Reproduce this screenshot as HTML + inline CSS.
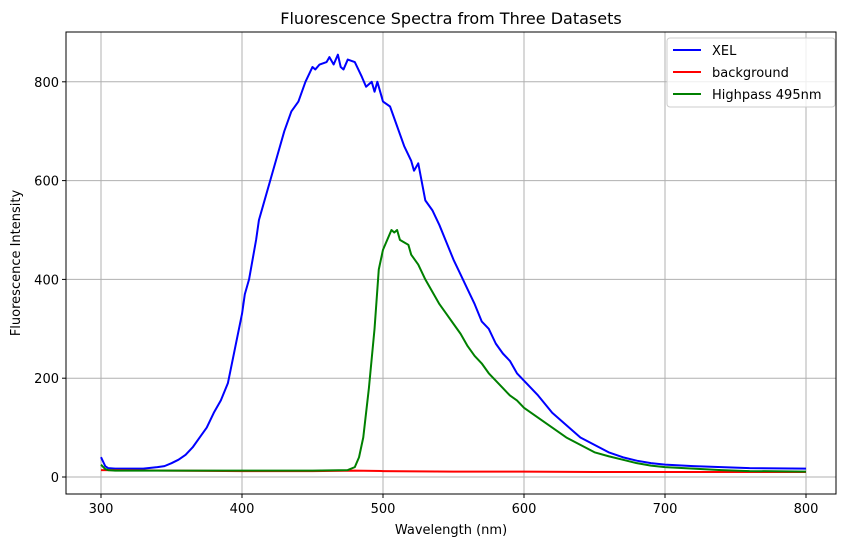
<!DOCTYPE html>
<html><head><meta charset="utf-8"><style>
body{margin:0;background:#fff;font-family:"Liberation Sans","DejaVu Sans",sans-serif}
svg text{font-family:"DejaVu Sans","Liberation Sans",sans-serif}
</style></head><body>
<svg id="chart" width="850" height="547">
<rect width="850" height="547" fill="#fff"/>
<g id="grid"></g>
<g id="series"></g>
<rect x="66" y="32" width="770" height="462" fill="none" stroke="#000" stroke-width="1"/>
<g id="ticks"></g>
<text x="451" y="24" text-anchor="middle" font-size="16">Fluorescence Spectra from Three Datasets</text>
<text x="451" y="534" text-anchor="middle" font-size="13">Wavelength (nm)</text>
<text transform="translate(20,263) rotate(-90)" text-anchor="middle" font-size="13">Fluorescence Intensity</text>
<g>
<rect x="667" y="38" width="168" height="69" rx="3" fill="#fff" fill-opacity="0.8" stroke="#ccc"/>
<g><line x1="673" y1="50" x2="701" y2="50" stroke="#0000ff" stroke-width="2"/><text x="712" y="55" font-size="13">XEL</text></g>
<g><line x1="673" y1="72" x2="701" y2="72" stroke="#ff0000" stroke-width="2"/><text x="712" y="77" font-size="13">background</text></g>
<g><line x1="673" y1="94" x2="701" y2="94" stroke="#008000" stroke-width="2"/><text x="712" y="99" font-size="13">Highpass 495nm</text></g>
</g>
</svg>
<script>
const xTicks=[300,400,500,600,700,800];
const yTicks=[0,200,400,600,800];
const xelW=[300,303,305,310,320,330,340,345,350,355,360,365,370,375,380,385,390,395,400,402,405,410,412,415,420,425,430,435,440,445,450,452,455,460,462,465,468,470,472,475,480,485,488,492,494,496,500,505,510,515,520,522,525,530,535,540,545,550,555,560,565,570,575,580,585,590,595,600,610,620,630,640,650,660,670,680,690,700,720,740,760,800];
const xelV=[40,22,18,17,17,17,20,22,28,35,45,60,80,100,130,155,190,260,330,370,400,480,520,550,600,650,700,740,760,800,830,825,835,840,850,835,855,830,825,845,840,810,790,800,780,800,760,750,710,670,640,620,635,560,540,510,475,440,410,380,350,315,300,270,250,235,210,195,165,130,105,80,65,50,40,33,28,25,22,20,18,17];
const bgW=[300,350,400,450,480,500,550,600,650,700,750,800];
const bgV=[14,13,12,12,13,12,11,11,10,10,10,10];
const hpW=[300,303,305,310,350,400,450,475,480,483,486,490,494,497,500,503,506,508,510,512,515,518,520,525,530,535,540,545,550,555,560,565,570,575,580,585,590,595,600,610,620,630,640,650,660,670,680,690,700,720,740,760,800];
const hpV=[25,16,14,13,13,13,13,14,20,40,80,180,300,420,460,480,500,495,500,480,475,470,450,430,400,375,350,330,310,290,265,245,230,210,195,180,165,155,140,120,100,80,65,50,42,35,28,23,20,17,14,12,11];
const X=w=>101+(w-300)*1.41;
const Y=v=>477-v*0.494;
const ns='http://www.w3.org/2000/svg';
const grid=document.getElementById('grid'),ticks=document.getElementById('ticks'),ser=document.getElementById('series');
function mk(tag,attrs,parent){const e=document.createElementNS(ns,tag);for(const k in attrs)e.setAttribute(k,attrs[k]);parent.appendChild(e);return e;}
xTicks.forEach(t=>{
  const g=mk('line',{x1:X(t),x2:X(t),y1:32,y2:494,stroke:'#b0b0b0','stroke-width':1},grid);
  
  
  mk('line',{x1:X(t),x2:X(t),y1:494,y2:498,stroke:'#000'},ticks);
  const tx=mk('text',{x:X(t),y:513,'text-anchor':'middle','font-size':13},ticks);
  tx.textContent=t;
  
  
});
yTicks.forEach(t=>{
  const g=mk('line',{x1:66,x2:836,y1:Y(t),y2:Y(t),stroke:'#b0b0b0','stroke-width':1},grid);
  
  
  mk('line',{x1:62,x2:66,y1:Y(t),y2:Y(t),stroke:'#000'},ticks);
  const tx=mk('text',{x:59,y:Y(t)+5,'text-anchor':'end','font-size':13},ticks);
  tx.textContent=t;
  
  
});
function line(ws,vs,color,name){
  const p=mk('polyline',{points:ws.map((w,i)=>X(w)+','+Y(vs[i])).join(' '),fill:'none',stroke:color,'stroke-width':2,'stroke-linejoin':'round'},ser);
  
  
}
line(xelW,xelV,'#0000ff','xel-line');
line(bgW,bgV,'#ff0000','background-line');
line(hpW,hpV,'#008000','highpass-line');
</script>
</body></html>
